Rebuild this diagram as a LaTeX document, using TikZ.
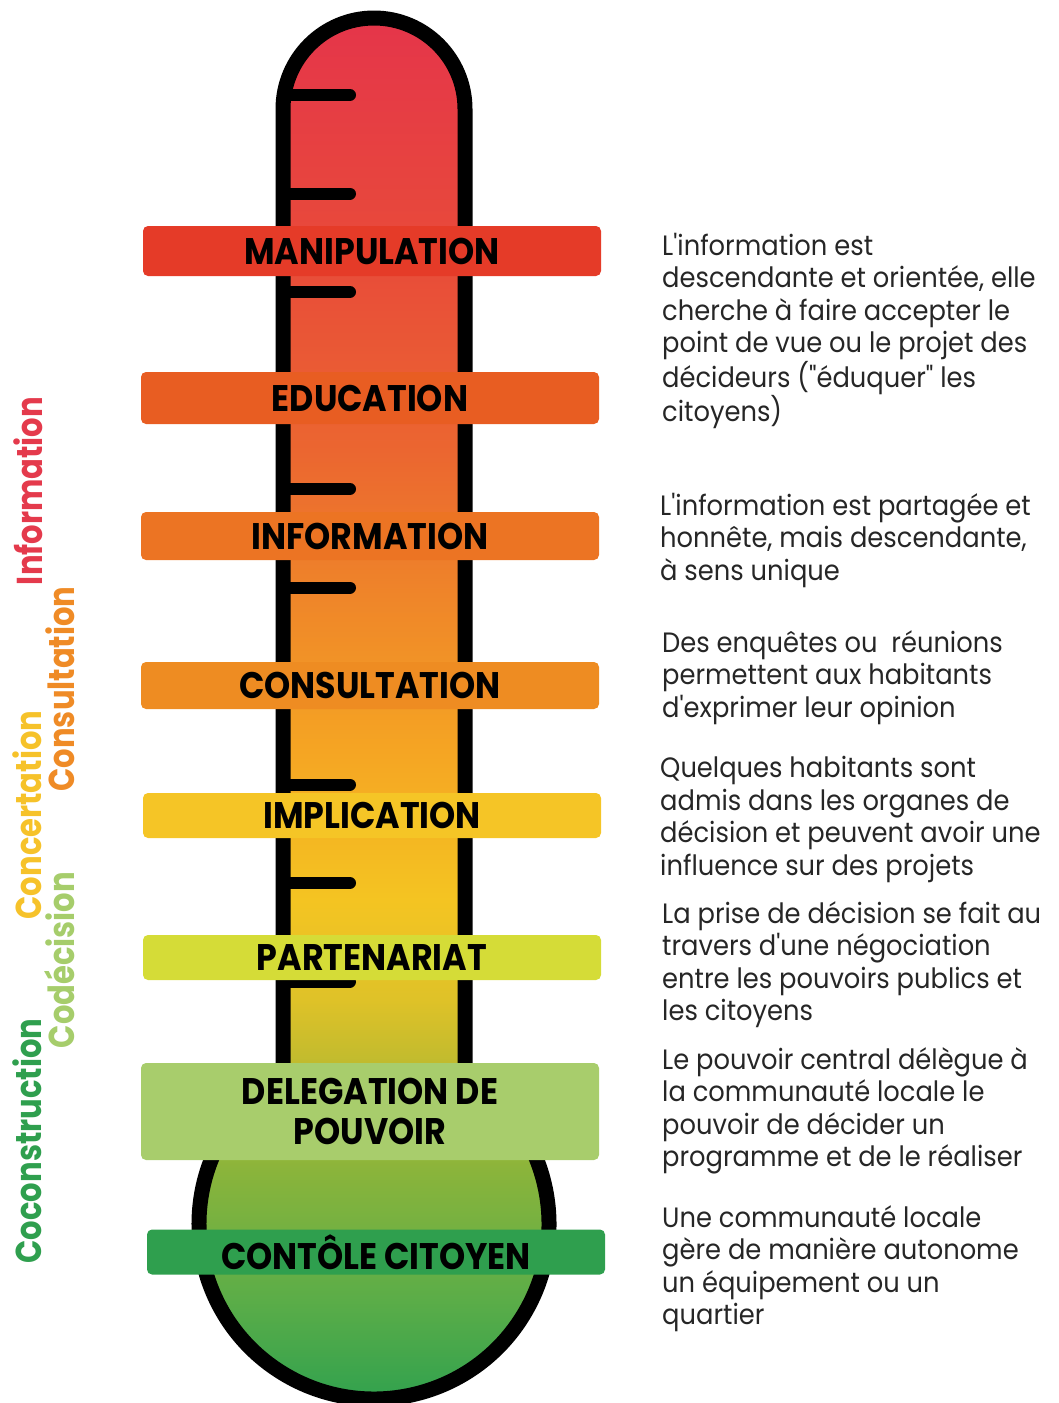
\documentclass[tikz,border=0pt]{standalone}
\usepackage{fontspec}
\setmainfont{Poppins}
\newfontfamily\barfamily{Poppins}[FakeStretch=0.9]
\newfontfamily\sidefamily{Poppins}[FakeStretch=0.85]
\newfontfamily\descfamily{Poppins}[FakeStretch=0.92]
\newcommand{\barfnt}{\barfamily\fontsize{37}{40}\selectfont\bfseries}
\newcommand{\sidefnt}{\sidefamily\fontsize{36}{36}\selectfont\bfseries}
\newcommand{\descfnt}{\descfamily\fontsize{28}{32.5}\selectfont}

% bar colours
\definecolor{manipC}{HTML}{E53B28}
\definecolor{educC}{HTML}{E85D22}
\definecolor{inforC}{HTML}{EC7423}
\definecolor{consuC}{HTML}{EE8C22}
\definecolor{implC}{HTML}{F5C526}
\definecolor{parteC}{HTML}{D5DC37}
\definecolor{delegC}{HTML}{A8CD6C}
\definecolor{controC}{HTML}{2F9F4E}
% side labels
\definecolor{sInfo}{HTML}{E43A4C}
\definecolor{sConsu}{HTML}{EF8B26}
\definecolor{sConce}{HTML}{F6C22A}
\definecolor{sCodec}{HTML}{A6CD6B}
\definecolor{sCocon}{HTML}{2F9F4E}
\definecolor{descC}{HTML}{262626}
% thermometer gradient
\definecolor{g0}{HTML}{33A24E}
\definecolor{g1}{HTML}{5BAD48}
\definecolor{g2}{HTML}{8AB43B}
\definecolor{g3}{HTML}{C6BC2D}
\definecolor{g4}{HTML}{DFC228}
\definecolor{g5}{HTML}{F4C422}
\definecolor{g6}{HTML}{F5A523}
\definecolor{g7}{HTML}{EF8629}
\definecolor{g8}{HTML}{EB6630}
\definecolor{g9}{HTML}{E84A3A}
\definecolor{g10}{HTML}{E5354A}
\pgfdeclareverticalshading{thermo}{100bp}{color(0bp)=(g0); color(25bp)=(g0);
  color(28.5bp)=(g1); color(33.2bp)=(g2); color(37.5bp)=(g3); color(39.4bp)=(g4);
  color(43bp)=(g5); color(48.4bp)=(g6); color(53.9bp)=(g7); color(59.3bp)=(g8);
  color(66.6bp)=(g9); color(75bp)=(g10); color(100bp)=(g10)}

\begin{document}
\begin{tikzpicture}[x=1pt, y=1pt,
  bar/.style={rounded corners=5pt, minimum width=458pt, inner sep=0pt,
    font=\barfnt, text=black, align=center},
  side/.style={rotate=90, font=\sidefnt, inner sep=0pt},
  desc/.style={anchor=north west, align=left, inner sep=0pt, font=\descfnt,
    text=descC},
  tick/.style={line width=12pt, line cap=round}]
  \pgfmathsetmacro{\xL}{283}
  \pgfmathsetmacro{\xR}{465}
  \pgfmathsetmacro{\rT}{91}
  \pgfmathsetmacro{\yT}{109}
  \pgfmathsetmacro{\rB}{175}
  \pgfmathsetmacro{\yB}{1224}
  \pgfmathsetmacro{\aB}{acos(\rT/\rB)}
  \pgfmathsetmacro{\yJ}{\yB-\rB*sin(\aB)}

  \useasboundingbox (0,0) rectangle (1059,-1403);

  % thermometer body
  \begin{scope}
    \clip (\xL,-\yT) arc[start angle=180, end angle=0, radius=\rT]
      -- (\xR,-\yJ) arc[start angle=\aB, end angle=-180-\aB, radius=\rB]
      -- cycle;
    \shade[shading=thermo] (180,-18) rectangle (570,-1396);
  \end{scope}
  \draw[line width=15pt, line join=round] (\xL,-\yT)
    arc[start angle=180, end angle=0, radius=\rT]
    -- (\xR,-\yJ) arc[start angle=\aB, end angle=-180-\aB, radius=\rB]
    -- cycle;

  \foreach \k in {0,...,9}{
    \draw[tick] (\xL,{-95-98.5*\k}) -- +(67,0);
  }

  % levels
  \node[bar, fill=manipC, minimum height=50pt] (manip) at (372,-251) {MANIPULATION};
  \node[bar, fill=educC, minimum height=52pt] (educ) at (370,-398) {EDUCATION};
  \node[bar, fill=inforC, minimum height=48pt] (infor) at (370,-536) {INFORMATION};
  \node[bar, fill=consuC, minimum height=47pt] (consu) at (370,-685.5) {CONSULTATION};
  \node[bar, fill=implC, minimum height=45pt] (impl) at (372,-815.5) {IMPLICATION};
  \node[bar, fill=parteC, minimum height=45pt] (parte) at (372,-957.5) {PARTENARIAT};
  \node[bar, fill=delegC, minimum height=97pt] (deleg) at (370,-1111.5) {DELEGATION DE\\POUVOIR};
  \node[bar, fill=controC, minimum height=45pt] (contro) at (376,-1252) {CONTÔLE CITOYEN};

  % degrees of participation
  \node[side, text=sInfo] (sinfo) at (28,-491) {Information};
  \node[side, text=sConsu] (sconsu) at (60,-689) {Consultation};
  \node[side, text=sConce] (sconce) at (27,-815) {Concertation};
  \node[side, text=sCodec] (scodec) at (60,-960) {Codécision};
  \node[side, text=sCocon] (scocon) at (27,-1141) {Coconstruction};

  % descriptions
  \node[desc] (dmanip) at (662,-233) {L'information est\\descendante et orientée, elle\\cherche à faire accepter le\\point de vue ou le projet des\\décideurs ("éduquer" les\\citoyens)};
  \node[desc] (dinfor) at (660,-493) {L'information est partagée et\\honnête, mais descendante,\\à sens unique};
  \node[desc] (dconsu) at (662,-630) {Des enquêtes ou~ réunions\\permettent aux habitants\\d'exprimer leur opinion};
  \node[desc] (dimpl) at (660,-756) {Quelques habitants sont\\admis dans les organes de\\décision et peuvent avoir une\\influence sur des projets};
  \node[desc] (dparte) at (662,-901) {La prise de décision se fait au\\travers d'une négociation\\entre les pouvoirs publics et\\les citoyens};
  \node[desc] (ddeleg) at (662,-1047) {Le pouvoir central délègue à\\la communauté locale le\\pouvoir de décider un\\programme et de le réaliser};
  \node[desc] (dcontro) at (662,-1205) {Une communauté locale\\gère de manière autonome\\un équipement ou un\\quartier};
\end{tikzpicture}
\end{document}
